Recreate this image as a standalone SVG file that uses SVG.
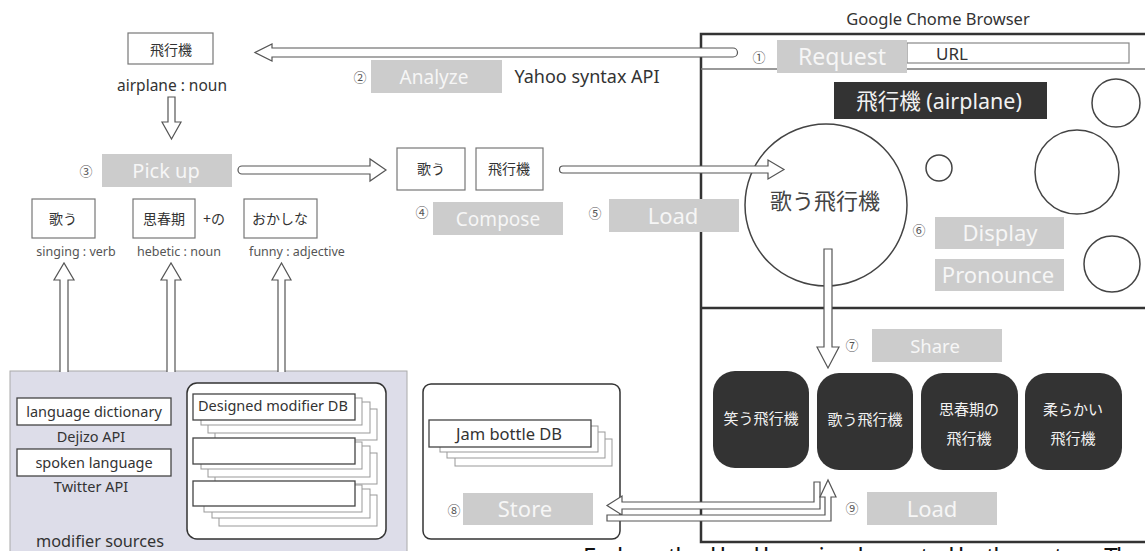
<svg xmlns="http://www.w3.org/2000/svg" width="1145" height="551" viewBox="0 0 1145 551">
  <style>
    text { font-family: "Noto Sans", "Noto Sans CJK JP", sans-serif; }
    .box { fill: #ffffff; stroke: #777777; stroke-width: 1.2; }
    .word { font-size: 14px; fill: #333333; text-anchor: middle; }
    .pos { font-size: 12.5px; fill: #555555; text-anchor: middle; }
    .step { fill: #cccccc; }
    .steptxt { font-size: 22px; fill: #f6f6f6; text-anchor: middle; }
    .num { font-size: 13px; fill: #555555; text-anchor: middle; }
    .arrow { fill: #ffffff; stroke: #555555; stroke-width: 1.2; stroke-linejoin: miter; }
    .frame { fill: none; stroke: #333333; stroke-width: 2.5; }
    .card { fill: #333333; }
    .cardtxt { font-size: 15px; fill: #f2f2f2; text-anchor: middle; }
    .circ { fill: #ffffff; stroke: #444444; stroke-width: 1.5; }
    .sheet { fill: #ffffff; stroke: #999999; stroke-width: 1; }
    .sheetf { fill: #ffffff; stroke: #444444; stroke-width: 1.3; }
    .label { font-size: 14.5px; fill: #333333; text-anchor: middle; }
  </style>

  <!-- browser window -->
  <g id="browser">
    <text x="938" y="25" font-size="16.5" fill="#333333" text-anchor="middle">Google Chome Browser</text>
    <rect class="frame" x="701" y="34" width="460" height="508"/>
    <line x1="701" y1="69" x2="1145" y2="69" stroke="#777777" stroke-width="1.5"/>
    <line x1="701" y1="308" x2="1145" y2="308" stroke="#333333" stroke-width="2.5"/>
    <rect x="907" y="43" width="222" height="20" fill="#ffffff" stroke="#888888" stroke-width="1.2"/>
    <text x="952" y="60" font-size="17" fill="#333333" text-anchor="middle">URL</text>
  </g>

  <!-- page content -->
  <g id="title-bar">
    <rect x="834" y="82" width="213" height="37" fill="#333333"/>
    <text x="939" y="109" font-size="21.5" fill="#f2f2f2" text-anchor="middle">飛行機 (airplane)</text>
  </g>
  <g id="bubbles">
    <circle class="circ" cx="939" cy="168" r="13" stroke-width="1.3"/>
    <circle class="circ" cx="1116" cy="103" r="24" stroke-width="1.3"/>
    <circle class="circ" cx="1077" cy="172" r="42" stroke-width="1.3"/>
    <circle class="circ" cx="1112" cy="264" r="28" stroke-width="1.3"/>
  </g>
  <g id="main-bubble">
    <circle class="circ" cx="826" cy="205" r="81"/>
    <text x="825" y="209" font-size="22" fill="#444444" text-anchor="middle">歌う飛行機</text>
  </g>

  <!-- shared cards -->
  <g id="card-1">
    <rect class="card" x="713" y="371" width="96" height="97" rx="22"/>
    <text class="cardtxt" x="761" y="424">笑う飛行機</text>
  </g>
  <g id="card-2">
    <rect class="card" x="817" y="373" width="96" height="97" rx="22"/>
    <text class="cardtxt" x="865" y="425">歌う飛行機</text>
  </g>
  <g id="card-3">
    <rect class="card" x="921" y="373" width="97" height="97" rx="22"/>
    <text class="cardtxt" x="969" y="415">思春期の</text>
    <text class="cardtxt" x="969" y="444">飛行機</text>
  </g>
  <g id="card-4">
    <rect class="card" x="1025" y="373" width="97" height="97" rx="22"/>
    <text class="cardtxt" x="1073" y="415">柔らかい</text>
    <text class="cardtxt" x="1073" y="444">飛行機</text>
  </g>

  <!-- word boxes -->
  <g id="word-airplane">
    <rect class="box" x="128" y="33" width="85" height="31"/>
    <text class="word" x="171" y="55">飛行機</text>
    <text x="172" y="91" font-size="15.5" fill="#333333" text-anchor="middle">airplane : noun</text>
  </g>
  <g id="word-utau">
    <rect class="box" x="32" y="199" width="63" height="39"/>
    <text class="word" x="63" y="224">歌う</text>
    <text class="pos" x="76" y="256">singing : verb</text>
  </g>
  <g id="word-shishunki">
    <rect class="box" x="133" y="199" width="62" height="39"/>
    <text class="word" x="164" y="224">思春期</text>
    <text x="214" y="224" font-size="14" fill="#333333" text-anchor="middle">+の</text>
    <text class="pos" x="179" y="256">hebetic : noun</text>
  </g>
  <g id="word-okashina">
    <rect class="box" x="244" y="199" width="73" height="39"/>
    <text class="word" x="280" y="224">おかしな</text>
    <text class="pos" x="297" y="256">funny : adjective</text>
  </g>
  <g id="word-compose">
    <rect class="box" x="397" y="148" width="68" height="42"/>
    <text class="word" x="431" y="174">歌う</text>
    <rect class="box" x="476" y="148" width="67" height="42"/>
    <text class="word" x="509" y="174">飛行機</text>
  </g>
  <text x="587" y="83" font-size="18" fill="#333333" text-anchor="middle">Yahoo syntax API</text>

  <!-- modifier sources -->
  <g id="modifier-sources">
    <rect x="10" y="371" width="397" height="190" fill="#dddde9" stroke="#aaaaaa" stroke-width="1"/>
    <rect class="sheetf" x="17" y="398" width="154" height="27"/>
    <text class="label" x="94" y="417">language dictionary</text>
    <text class="label" x="91" y="442">Dejizo API</text>
    <rect class="sheetf" x="17" y="449" width="154" height="27"/>
    <text class="label" x="94" y="468">spoken language</text>
    <text class="label" x="91" y="492">Twitter API</text>
    <text x="100" y="547" font-size="16.3" fill="#333333" text-anchor="middle">modifier sources</text>
  </g>
  <g id="designed-modifier-db">
    <rect x="187" y="383" width="199" height="156" rx="10" fill="#ffffff" stroke="#333333" stroke-width="1.5"/>
    <rect class="sheet" x="215" y="409" width="162" height="31"/>
    <rect class="sheet" x="208" y="402" width="162" height="31"/>
    <rect class="sheet" x="201" y="398" width="161" height="27"/>
    <rect class="sheetf" x="193" y="394" width="162" height="26"/>
    <text x="198" y="411" font-size="14.5" fill="#333333">Designed modifier DB</text>
    <rect class="sheet" x="215" y="453" width="162" height="31"/>
    <rect class="sheet" x="208" y="446" width="162" height="31"/>
    <rect class="sheet" x="201" y="442" width="161" height="27"/>
    <rect class="sheetf" x="193" y="438" width="162" height="26"/>
    <rect class="sheet" x="219" y="495" width="158" height="31"/>
    <rect class="sheet" x="212" y="489" width="158" height="29"/>
    <rect class="sheet" x="204" y="485" width="158" height="27"/>
    <rect class="sheetf" x="193" y="481" width="162" height="25"/>
  </g>
  <g id="jam-bottle-db">
    <rect x="423" y="384" width="197" height="155" rx="8" fill="#ffffff" stroke="#333333" stroke-width="1.5"/>
    <rect class="sheet" x="455" y="439" width="157" height="27"/>
    <rect class="sheet" x="447" y="432" width="158" height="26"/>
    <rect class="sheet" x="440" y="426" width="158" height="26"/>
    <rect class="sheetf" x="429" y="420" width="162" height="27"/>
    <text class="label" x="509" y="440" style="font-size:16.5px">Jam bottle DB</text>
  </g>

  <!-- connectors -->
  <g id="connectors">
    <path class="arrow" d="M733,48 H272 V44 L255,52.5 L272,61 V57 H733 A4.5,4.5 0 0 0 733,48 Z"/>
    <path class="arrow" d="M168,97 H175 V122 H181 L171.5,139 L162,122 H168 Z"/>
    <path class="arrow" d="M242,166 H370 V159 L386,170 L370,181 V174 H242 A4,4 0 0 1 242,166 Z"/>
    <path class="arrow" d="M563,166 H768 V160 L784,169.5 L768,179 V173 H563 A3.5,3.5 0 0 1 563,166 Z"/>
    <path class="arrow" d="M824,249 H832 V347 H839 L828,368 L817,347 H824 Z"/>
    <path class="arrow" d="M60,372 V280 H54 L64,263 L74,280 H68 V372"/>
    <path class="arrow" d="M167,372 V280 H161 L171,263 L181,280 H175 V372"/>
    <path class="arrow" d="M278,372 V280 H272 L281.5,263 L291,280 H285 V372"/>
    <path class="arrow" d="M820,482 V509 H622 V515 L607,505.5 L622,496 V502 H814 V482 Z"/>
    <path class="arrow" d="M607,515 H825 V497 H820 L828,480 L836,497 H831 V521 H607 Z"/>
  </g>

  <!-- step labels -->
  <g id="steps">
    <text class="num" x="759" y="62">①</text>
    <rect class="step" x="777" y="40" width="130" height="33"/>
    <text class="steptxt" x="842" y="65" style="font-size:23px">Request</text>

    <text class="num" x="360" y="82">②</text>
    <rect class="step" x="371" y="60" width="131" height="33"/>
    <text class="steptxt" x="434" y="84" style="font-size:19px">Analyze</text>

    <text class="num" x="86" y="176">③</text>
    <rect class="step" x="102" y="154" width="130" height="33"/>
    <text class="steptxt" x="166" y="178" style="font-size:20px">Pick up</text>

    <text class="num" x="422" y="217">④</text>
    <rect class="step" x="433" y="202" width="130" height="33"/>
    <text class="steptxt" x="498" y="226" style="font-size:19px">Compose</text>

    <text class="num" x="595" y="218">⑤</text>
    <rect class="step" x="609" y="199" width="130" height="33"/>
    <text class="steptxt" x="673" y="224">Load</text>

    <text class="num" x="919" y="235">⑥</text>
    <rect class="step" x="935" y="217" width="129" height="32"/>
    <text class="steptxt" x="1000" y="241">Display</text>
    <rect class="step" x="935" y="259" width="129" height="32"/>
    <text class="steptxt" x="998" y="283">Pronounce</text>

    <text class="num" x="852" y="350">⑦</text>
    <rect class="step" x="872" y="329" width="130" height="33"/>
    <text class="steptxt" x="935" y="353" style="font-size:18.5px">Share</text>

    <text class="num" x="454" y="515">⑧</text>
    <rect class="step" x="463" y="493" width="130" height="32"/>
    <text class="steptxt" x="525" y="517">Store</text>

    <text class="num" x="852" y="513">⑨</text>
    <rect class="step" x="867" y="492" width="130" height="33"/>
    <text class="steptxt" x="932" y="517">Load</text>
  </g>

  <!-- running caption line below the figure -->
  <text x="583" y="565" font-family="Liberation Serif, serif" font-size="24" fill="#111111" textLength="560" lengthAdjust="spacing">Each method had been implemented by the system. The</text>
</svg>
